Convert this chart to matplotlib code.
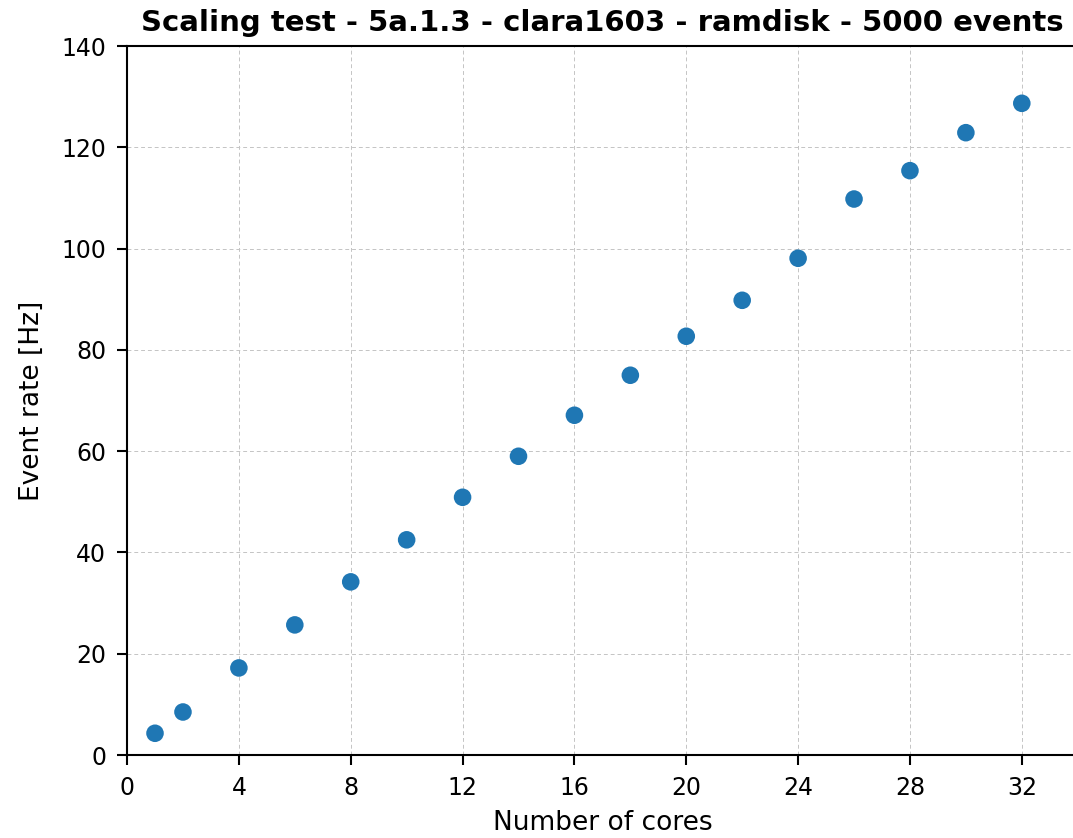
import matplotlib
matplotlib.use("Agg")
import matplotlib.pyplot as plt

cores = [1, 2, 4, 6, 8, 10, 12, 14, 16, 18, 20, 22, 24, 26, 28, 30, 32]
rates = [4.3, 8.5, 17.2, 25.7, 34.2, 42.5, 50.9, 59.0, 67.1, 75.0, 82.7, 89.8, 98.1, 109.8, 115.4, 122.9, 128.7]
xticks = [0, 4, 8, 12, 16, 20, 24, 28, 32]
yticks = [0, 20, 40, 60, 80, 100, 120, 140]

fig = plt.figure(figsize=(10.73, 8.38), dpi=100)
ax = fig.add_axes([0.1184, 0.099, 0.886, 0.846])
ax.scatter(cores, rates, s=160, color='#1f77b4', zorder=3, edgecolors='none')
ax.set_xlim(0, 34)
ax.set_ylim(0, 140)
ax.set_xticks(xticks)
ax.set_yticks(yticks)
ax.tick_params(labelsize=17, length=7, width=1.5, pad=8)
for s in ax.spines.values():
    s.set_linewidth(1.5)
ax.grid(True, linestyle=(0, (4, 3)), color='#c4c4c4', linewidth=0.7)
ax.set_xlabel('Number of cores', fontsize=19, labelpad=7)
ax.set_ylabel('Event rate [Hz]', fontsize=19, labelpad=12)
ax.set_title('Scaling test - 5a.1.3 - clara1603 - ramdisk - 5000 events', fontsize=21, fontweight='bold', pad=11)
fig.savefig('out.png', dpi=100)
